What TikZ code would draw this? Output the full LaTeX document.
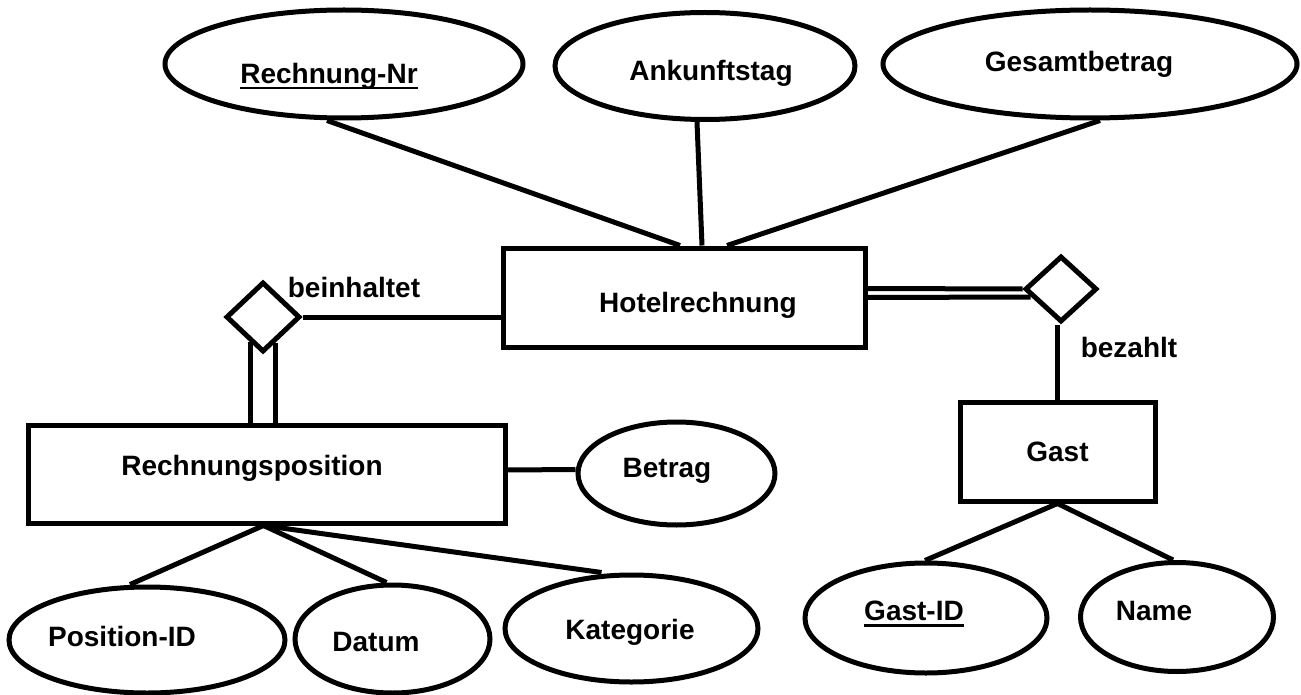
\documentclass[tikz,border=0pt]{standalone}
\usepackage{fontspec}
\setmainfont{Liberation Sans}
\usetikzlibrary{shapes,positioning}
\newcommand{\keyattr}[1]{\setbox0\hbox{#1}\rlap{\rule[-6pt]{\wd0}{2.5pt}}\box0}
\newcommand{\shifttxt}[3]{\hspace*{#1}\raisebox{#2}[\height][\depth]{#3}\hspace*{-#1}}

\begin{document}
\begin{tikzpicture}[x=1pt, y=-1pt, line width=5pt,
  every node/.style={font=\bfseries\fontsize{28}{34}\selectfont},
  entity/.style={draw, rectangle, inner sep=0pt},
  attrib/.style={draw, ellipse, inner sep=0pt},
  rel/.style={draw, diamond, inner sep=0pt, minimum width=74pt, minimum height=70pt}]
\useasboundingbox (0,0) rectangle (1301,695);

\node (hotel) [entity, minimum width=362pt, minimum height=99pt] at (684,297.5) {\shifttxt{14pt}{-7.5pt}{Hotelrechnung}};
\node (rpos) [entity, minimum width=477pt, minimum height=98pt] at (266.5,474) {\shifttxt{-14.5pt}{5.5pt}{Rechnungsposition}};
\node (gast) [entity, minimum width=195pt, minimum height=99pt] at (1057.5,451.5) {Gast};

\node (beinh) [rel] at (263,317) {};
\node (bezahlt) [rel, minimum width=72pt, minimum height=66pt] at (1061,289) {};
\node (beinhtxt) at (354,287) {beinhaltet};
\node (bezahlttxt) at (1129,347.5) {bezahlt};

\node (rnr) [attrib, minimum width=358pt, minimum height=108pt] at (344,64) {\shifttxt{-15pt}{-12pt}{\keyattr{Rechnung-Nr}}};
\node (ankunft) [attrib, minimum width=300pt, minimum height=107pt] at (705,66) {\shifttxt{6pt}{-7pt}{Ankunftstag}};
\node (gesamt) [attrib, minimum width=414pt, minimum height=108pt] at (1090,64) {\shifttxt{-11pt}{0pt}{Gesamtbetrag}};
\node (betrag) [attrib, minimum width=197pt, minimum height=103pt] at (676.5,473.5) {\shifttxt{-9.5pt}{3pt}{Betrag}};
\node (posid) [attrib, minimum width=276pt, minimum height=106pt] at (147,640) {\shifttxt{-25pt}{4pt}{Position-ID}};
\node (datum) [attrib, minimum width=195pt, minimum height=108pt] at (392.5,639) {\shifttxt{-16.5pt}{-3pt}{Datum}};
\node (kateg) [attrib, minimum width=253pt, minimum height=107pt] at (631.5,628.5) {\shifttxt{-1.5pt}{-4pt}{Kategorie}};
\node (gastid) [attrib, minimum width=242pt, minimum height=110pt] at (926,618) {\shifttxt{-12pt}{4pt}{\keyattr{Gast-ID}}};
\node (name) [attrib, minimum width=193pt, minimum height=109pt] at (1177,617) {\shifttxt{-23pt}{6pt}{Name}};

% Hotelrechnung
\draw ([xshift=-17pt]rnr.south) -- ([xshift=-4pt]hotel.north);
\draw ([xshift=-8pt]ankunft.south) -- ([xshift=18pt]hotel.north);
\draw ([xshift=10pt]gesamt.south) -- ([xshift=43pt]hotel.north);
\draw (beinh.east) -- (beinh.east -| hotel.west);
\draw ([yshift=9pt]hotel.east) -- (bezahlt.west);
\draw (hotel.east) -- ([xshift=8pt,yshift=-8pt]bezahlt.west);

% Rechnungsposition
\draw ([xshift=-12.5pt,yshift=12.5pt]beinh.south) -- ([xshift=-12.5pt]beinh.south |- rpos.north);
\draw ([xshift=12pt,yshift=12pt]beinh.south) -- ([xshift=12pt]beinh.south |- rpos.north);
\draw ([yshift=4pt]rpos.east) -- ([yshift=4pt]betrag.west);
\draw ([xshift=-3pt]rpos.south) -- ([xshift=-17pt]posid.north);
\draw ([xshift=-3pt]rpos.south) -- ([xshift=-6pt]datum.north);
\draw ([xshift=-3pt]rpos.south) -- ([xshift=-30pt]kateg.north);

% Gast
\draw (gast.north |- bezahlt.south) -- (gast.north);
\draw (gast.south) -- ([xshift=-1pt]gastid.north);
\draw (gast.south) -- ([xshift=-4pt]name.north);
\end{tikzpicture}
\end{document}
